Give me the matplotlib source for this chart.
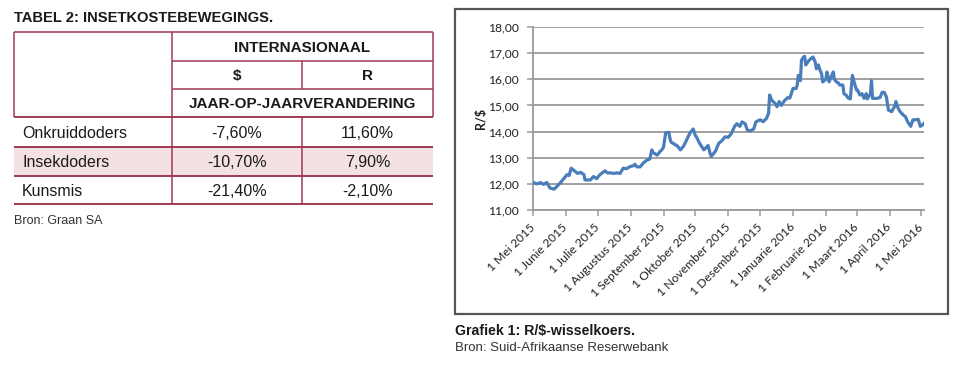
import matplotlib
matplotlib.use("Agg")
import matplotlib.pyplot as plt
import pandas as pd
from matplotlib.patches import Rectangle

# ---------------- data ----------------
table_title = "TABEL 2: INSETKOSTEBEWEGINGS."
table_group = "INTERNASIONAAL"
table_cols = ["$", "R"]
table_subhead = "JAAR-OP-JAARVERANDERING"
row_labels = ["Onkruiddoders", "Insekdoders", "Kunsmis"]
usd_change = ["-7,60%", "-10,70%", "-21,40%"]
zar_change = ["11,60%", "7,90%", "-2,10%"]
table_source = "Bron: Graan SA"

dates = [
    "2015-05-01", "2015-05-05", "2015-05-08", "2015-05-11", "2015-05-14", "2015-05-17",
    "2015-05-21", "2015-05-27", "2015-05-30", "2015-06-02", "2015-06-04", "2015-06-06",
    "2015-06-09", "2015-06-12", "2015-06-15", "2015-06-18", "2015-06-19", "2015-06-24",
    "2015-06-27", "2015-06-30", "2015-07-03", "2015-07-08", "2015-07-10", "2015-07-13",
    "2015-07-16", "2015-07-19", "2015-07-22", "2015-07-25", "2015-07-28", "2015-07-31",
    "2015-08-04", "2015-08-05", "2015-08-07", "2015-08-10", "2015-08-13", "2015-08-16",
    "2015-08-19", "2015-08-21", "2015-08-22", "2015-08-26", "2015-08-29", "2015-08-30",
    "2015-09-01", "2015-09-03", "2015-09-06", "2015-09-07", "2015-09-08", "2015-09-10",
    "2015-09-14", "2015-09-17", "2015-09-20", "2015-09-23", "2015-09-26", "2015-09-29",
    "2015-10-01", "2015-10-02", "2015-10-05", "2015-10-09", "2015-10-12", "2015-10-13",
    "2015-10-15", "2015-10-16", "2015-10-20", "2015-10-23", "2015-10-26", "2015-10-29",
    "2015-11-01", "2015-11-04", "2015-11-07", "2015-11-09", "2015-11-12", "2015-11-14",
    "2015-11-17", "2015-11-19", "2015-11-22", "2015-11-25", "2015-11-27", "2015-12-01",
    "2015-12-04", "2015-12-07", "2015-12-09", "2015-12-10", "2015-12-12", "2015-12-15",
    "2015-12-17", "2015-12-19", "2015-12-21", "2015-12-24", "2015-12-27", "2015-12-29",
    "2016-01-01", "2016-01-04", "2016-01-05", "2016-01-06", "2016-01-08", "2016-01-09",
    "2016-01-11", "2016-01-12", "2016-01-13", "2016-01-14", "2016-01-16", "2016-01-19",
    "2016-01-20", "2016-01-22", "2016-01-23", "2016-01-25", "2016-01-26", "2016-01-28",
    "2016-01-29", "2016-02-01", "2016-02-02", "2016-02-04", "2016-02-06", "2016-02-08",
    "2016-02-09", "2016-02-11", "2016-02-13", "2016-02-14", "2016-02-17", "2016-02-18",
    "2016-02-20", "2016-02-22", "2016-02-24", "2016-02-26", "2016-02-28", "2016-03-01",
    "2016-03-02", "2016-03-04", "2016-03-06", "2016-03-08", "2016-03-10", "2016-03-11",
    "2016-03-14", "2016-03-15", "2016-03-16", "2016-03-20", "2016-03-23", "2016-03-25",
    "2016-03-27", "2016-03-29", "2016-03-31", "2016-04-03", "2016-04-06", "2016-04-07",
    "2016-04-09", "2016-04-11", "2016-04-14", "2016-04-16", "2016-04-18", "2016-04-21",
    "2016-04-23", "2016-04-25", "2016-04-28", "2016-04-30", "2016-05-02", "2016-05-04",
]
rand_per_usd = [
    12.05, 12.00, 12.05, 11.98, 12.05, 11.84,
    11.80, 12.05, 12.20, 12.35, 12.32, 12.60,
    12.50, 12.40, 12.44, 12.35, 12.15, 12.15,
    12.28, 12.20, 12.35, 12.50, 12.42, 12.42,
    12.40, 12.42, 12.40, 12.60, 12.58, 12.65,
    12.70, 12.75, 12.65, 12.65, 12.80, 12.90,
    12.95, 13.30, 13.20, 13.10, 13.25, 13.28,
    13.40, 13.95, 13.97, 13.75, 13.60, 13.55,
    13.45, 13.30, 13.45, 13.70, 13.95, 14.10,
    13.85, 13.80, 13.55, 13.30, 13.42, 13.47,
    13.15, 13.05, 13.25, 13.55, 13.65, 13.80,
    13.78, 13.93, 14.20, 14.30, 14.20, 14.37,
    14.30, 14.05, 14.03, 14.10, 14.37, 14.45,
    14.38, 14.50, 14.70, 15.40, 15.20, 15.08,
    14.95, 15.15, 15.00, 15.18, 15.30, 15.28,
    15.65, 15.65, 15.78, 16.15, 15.95, 16.73,
    16.85, 16.88, 16.55, 16.60, 16.72, 16.83,
    16.85, 16.65, 16.40, 16.55, 16.40, 16.20,
    15.90, 16.00, 16.28, 15.90, 16.10, 16.28,
    16.00, 15.90, 15.85, 15.78, 15.78, 15.45,
    15.40, 15.28, 15.25, 16.15, 15.84, 15.58,
    15.58, 15.40, 15.45, 15.27, 15.45, 15.25,
    15.45, 15.95, 15.27, 15.27, 15.30, 15.50,
    15.50, 15.33, 14.82, 14.76, 14.98, 15.15,
    14.90, 14.76, 14.63, 14.57, 14.38, 14.20,
    14.45, 14.45, 14.47, 14.20, 14.25, 14.34,
]
x_tick_labels = [
    "1 Mei 2015", "1 Junie 2015", "1 Julie 2015", "1 Augustus 2015",
    "1 September 2015", "1 Oktober 2015", "1 November 2015", "1 Desember 2015",
    "1 Januarie 2016", "1 Februarie 2016", "1 Maart 2016", "1 April 2016", "1 Mei 2016",
]
y_ticks = [11, 12, 13, 14, 15, 16, 17, 18]
y_label = "R/$"
chart_title = "Grafiek 1: R/$-wisselkoers."
chart_source = "Bron: Suid-Afrikaanse Reserwebank"

# ---------------- figure ----------------
W, H = 960, 366
fig = plt.figure(figsize=(W / 100, H / 100), dpi=100)
fig.patch.set_facecolor("white")

ov = fig.add_axes([0, 0, 1, 1])
ov.set_xlim(0, W)
ov.set_ylim(H, 0)
ov.axis("off")

SANS = ["Liberation Sans", "DejaVu Sans"]
line_col = "#9e3a52"
pink = "#f4e1e4"
txt_col = "#1a1a1a"

tx0, tx1, tx2, tx3 = 14, 172, 302, 433
ty = [32, 61, 89, 117, 147, 176, 204]

ov.text(tx0, 18.5, table_title, family=SANS, weight="bold", fontsize=10.6,
        va="center", ha="left", color=txt_col)

ov.add_patch(Rectangle((tx0, ty[4]), tx3 - tx0, ty[5] - ty[4], facecolor=pink,
                       edgecolor="none", zorder=0))

lw = 1.1
def hline(y, xa, xb, w=lw):
    ov.plot([xa, xb], [y, y], color=line_col, lw=w, solid_capstyle="butt")
def vline(x, ya, yb, w=lw):
    ov.plot([x, x], [ya, yb], color=line_col, lw=w, solid_capstyle="butt")

hline(ty[0], tx0, tx3)
hline(ty[1], tx1, tx3)
hline(ty[2], tx1, tx3)
for y in ty[3:]:
    hline(y, tx0, tx3, 1.4)
vline(tx0, ty[0], ty[3])
vline(tx3, ty[0], ty[3])
vline(tx1, ty[0], ty[6])
vline(tx2, ty[1], ty[2])
vline(tx2, ty[3], ty[6])

hdr = dict(family=SANS, weight="bold", fontsize=11, color=txt_col, ha="center", va="center")
ov.text((tx1 + tx3) / 2, (ty[0] + ty[1]) / 2 + 1, table_group, **hdr)
ov.text((tx1 + tx2) / 2, (ty[1] + ty[2]) / 2 + 1, table_cols[0], **hdr)
ov.text((tx2 + tx3) / 2, (ty[1] + ty[2]) / 2 + 1, table_cols[1], **hdr)
ov.text((tx1 + tx3) / 2, (ty[2] + ty[3]) / 2 + 1, table_subhead, **hdr)

cell = dict(family=SANS, fontsize=11.5, color=txt_col, va="center")
for i, lab in enumerate(row_labels):
    yc = (ty[3 + i] + ty[4 + i]) / 2 + 1
    ov.text(tx0 + 8, yc, lab, ha="left", **cell)
    ov.text((tx1 + tx2) / 2, yc, usd_change[i], ha="center", **cell)
    ov.text((tx2 + tx3) / 2, yc, zar_change[i], ha="center", **cell)

ov.text(tx0, 221, table_source, family=SANS, fontsize=9, color="#333333",
        ha="left", va="center")

ov.add_patch(Rectangle((455, 9), 948 - 455, 314 - 9, facecolor="none",
                       edgecolor="#555555", lw=1.6, zorder=1))
ov.text(455, 331, chart_title, family=SANS, weight="bold", fontsize=10.2,
        color=txt_col, ha="left", va="center")
ov.text(455, 348, chart_source, family=SANS, fontsize=9.5, color="#333333",
        ha="left", va="center")

# ---------------- line chart ----------------
ax_l, ax_r, ax_t, ax_b = 533, 923.5, 27, 210
ax = fig.add_axes([ax_l / W, 1 - ax_b / H, (ax_r - ax_l) / W, (ax_b - ax_t) / H])
ax.patch.set_alpha(0)

CH = ["Lato", "Open Sans", "DejaVu Sans"]
d = pd.to_datetime(dates)
ax.plot(d, rand_per_usd, color="#4a7ebb", lw=2.3, solid_joinstyle="round", zorder=3)

ax.set_ylim(11, 18)
ax.set_yticks(y_ticks)
ax.set_yticklabels([f"{v:.2f}".replace(".", ",") for v in y_ticks],
                   family=CH, fontsize=8.7, color="#222222")
tick_dates = pd.date_range("2015-05-01", periods=len(x_tick_labels), freq="MS")
ax.set_xlim(pd.Timestamp("2015-05-01"), pd.Timestamp("2016-05-03"))
ax.set_xticks(tick_dates)
ax.set_xticklabels(x_tick_labels, family=CH, fontsize=8.7, color="#222222",
                   rotation=45, ha="right", va="center", rotation_mode="anchor")

ax.grid(axis="y", color="#9a9a9a", lw=1.3)
ax.set_axisbelow(True)
for s in ["top", "right"]:
    ax.spines[s].set_visible(False)
for s in ["left", "bottom"]:
    ax.spines[s].set_color("#9a9a9a")
    ax.spines[s].set_linewidth(1.3)
ax.tick_params(axis="both", color="#9a9a9a", length=4, width=1.1, direction="out")
ax.tick_params(axis="y", pad=6)
ax.tick_params(axis="x", pad=7)

ax.set_ylabel(y_label, family=CH, weight="bold", fontsize=9, color="#222222")
ax.yaxis.set_label_coords(-0.118, 0.5)

fig.savefig("out.png", dpi=100, facecolor="white")
